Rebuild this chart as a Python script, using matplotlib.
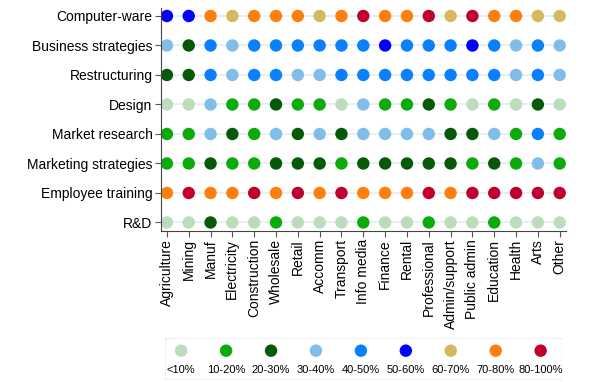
import matplotlib.pyplot as plt
from matplotlib.patches import FancyBboxPatch

plt.rcParams['font.family'] = ['Liberation Sans', 'DejaVu Sans']

# data
sectors = ['Agriculture', 'Mining', 'Manuf', 'Electricity', 'Construction', 'Wholesale',
           'Retail', 'Accomm', 'Transport', 'Info media', 'Finance', 'Rental',
           'Professional', 'Admin/support', 'Public admin', 'Education', 'Health',
           'Arts', 'Other']
activities = ['Computer-ware', 'Business strategies', 'Restructuring', 'Design',
              'Market research', 'Marketing strategies', 'Employee training', 'R&D']
level_labels = ['<10%', '10-20%', '20-30%', '30-40%', '40-50%', '50-60%',
                '60-70%', '70-80%', '80-100%']
level_colors = ['#bcdcbc', '#0aab0a', '#065906', '#80bde8', '#0a80ff', '#0000ff',
                '#d6b95e', '#ff7f0a', '#c0002e']

# band index (into level_labels) for each activity, one per sector
computer_ware = [5, 5, 7, 6, 7, 7, 7, 6, 7, 8, 7, 7, 8, 6, 8, 7, 7, 6, 6]
business_strategies = [3, 2, 4, 3, 4, 4, 4, 4, 4, 4, 5, 4, 4, 4, 5, 4, 3, 4, 3]
restructuring = [2, 2, 4, 3, 4, 4, 3, 3, 4, 4, 4, 4, 4, 4, 4, 4, 3, 4, 3]
design = [0, 0, 3, 1, 1, 2, 1, 1, 0, 3, 1, 1, 2, 1, 0, 1, 0, 2, 0]
market_research = [1, 1, 3, 2, 1, 3, 2, 3, 2, 3, 3, 3, 3, 2, 2, 3, 1, 4, 1]
marketing_strategies = [1, 1, 2, 1, 1, 2, 2, 2, 1, 2, 2, 2, 2, 2, 1, 2, 1, 3, 1]
employee_training = [7, 8, 7, 7, 8, 7, 8, 7, 8, 7, 7, 7, 8, 7, 8, 8, 8, 8, 8]
rnd = [0, 0, 2, 0, 0, 1, 0, 0, 0, 1, 0, 0, 1, 0, 0, 1, 0, 0, 0]

rows = [computer_ware, business_strategies, restructuring, design,
        market_research, marketing_strategies, employee_training, rnd]

fig = plt.figure(figsize=(6, 3.82), dpi=100)
ax = fig.add_axes([0.268, 0.396, 0.675, 0.583])

xs = list(range(len(sectors)))
for i, row in enumerate(rows):
    ax.plot(xs, [i] * len(xs), color='#e3eff1', lw=1.2, zorder=1)
    ax.scatter(xs, [i] * len(xs), c=[level_colors[v] for v in row], s=80,
               linewidths=0, zorder=2)

ax.set_xlim(-0.28, len(sectors) - 1 + 0.28)
ax.set_ylim(len(activities) - 1 + 0.28, -0.27)
ax.set_xticks(xs)
ax.set_xticklabels(sectors, rotation=90, fontsize=10)
ax.set_yticks(range(len(activities)))
ax.set_yticklabels(activities, fontsize=10)
ax.tick_params(length=4, width=0.8, color='#555555', pad=2)
for s in ['top', 'right']:
    ax.spines[s].set_visible(False)
for s in ['left', 'bottom']:
    ax.spines[s].set_linewidth(0.8)
    ax.spines[s].set_color('#444444')

# legend drawn as its own little axes
lax = fig.add_axes([0.275, 0.005, 0.662, 0.11])
lax.set_xlim(-0.36, len(level_labels) - 1 + 0.48)
lax.set_ylim(0, 1)
lax.axis('off')
lax.add_patch(FancyBboxPatch((0, 0), 1, 1, transform=lax.transAxes,
                             boxstyle='round,pad=0,rounding_size=0.02',
                             fc='white', ec='#e4e8ea', lw=0.8))
lx = list(range(len(level_labels)))
lax.scatter(lx, [0.7] * len(lx), c=level_colors, s=80, linewidths=0)
for x, lab in zip(lx, level_labels):
    lax.text(x, 0.25, lab, ha='center', va='center', fontsize=8)

fig.savefig('out.png', dpi=100)
